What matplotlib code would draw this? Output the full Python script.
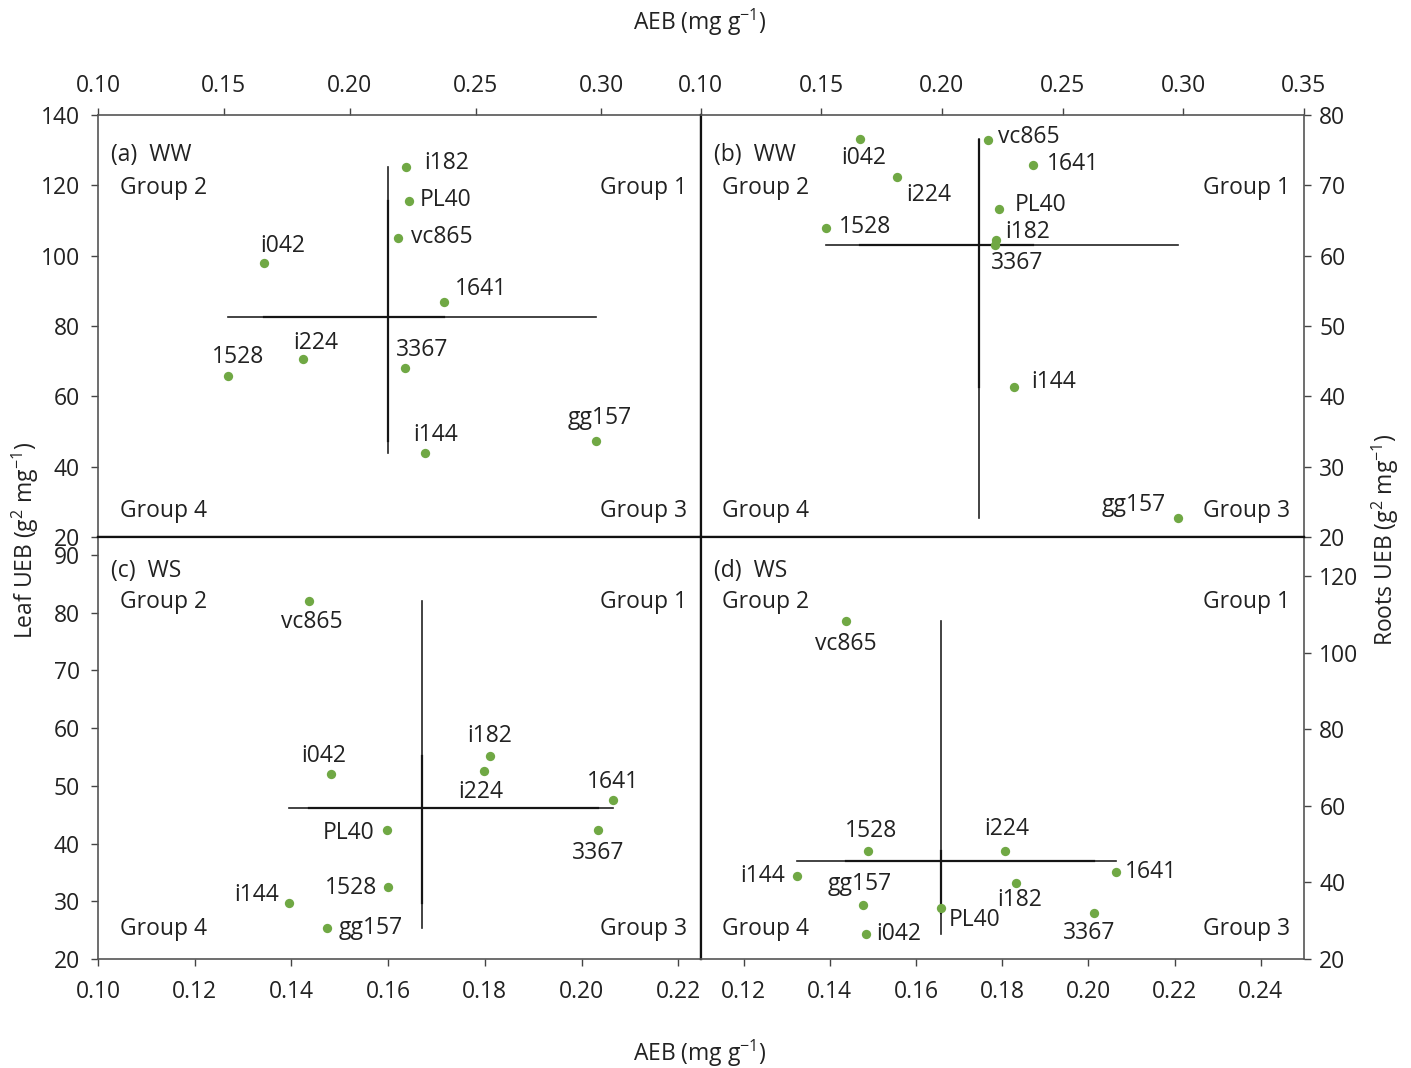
import numpy as np
import matplotlib
matplotlib.use('Agg')
import matplotlib.pyplot as plt

plt.rcParams['font.family'] = ['Open Sans', 'DejaVu Sans']
plt.rcParams['mathtext.fontset'] = 'custom'
plt.rcParams['mathtext.rm'] = 'Open Sans'
plt.rcParams['mathtext.default'] = 'regular'
plt.rcParams['font.size'] = 16.5
plt.rcParams['text.color'] = '#222222'

# genotypes and values
genotypes = ['1528', '1641', '3367', 'gg157', 'i042', 'i144', 'i182', 'i224', 'PL40', 'vc865']
aeb_ww = [0.1518, 0.2376, 0.2221, 0.2979, 0.1660, 0.2300, 0.2223, 0.1816, 0.2235, 0.2192]
leaf_ww = [65.8, 86.8, 68.0, 47.4, 97.9, 43.9, 125.2, 70.7, 115.5, 105.0]
root_ww = [63.9, 72.9, 61.5, 22.7, 76.6, 41.3, 62.2, 71.2, 66.6, 76.4]
aeb_ws_leaf = [0.1599, 0.2066, 0.2035, 0.1473, 0.1481, 0.1396, 0.1810, 0.1799, 0.1597, 0.1437]
leaf_ws = [32.5, 47.6, 42.4, 25.4, 52.1, 29.7, 55.2, 52.6, 42.4, 82.0]
aeb_ws_root = [0.1488, 0.2065, 0.2013, 0.1477, 0.1484, 0.1323, 0.1832, 0.1807, 0.1658, 0.1437]
root_ws = [48.3, 42.6, 32.1, 34.2, 26.6, 41.8, 39.9, 48.3, 33.2, 108.3]

# label offsets (pixels) for each panel
offs_a = {'i182': (41, 4), 'PL40': (37, 1), 'vc865': (44, 1), 'i042': (19, 17),
          '1641': (37, 13), 'i224': (12, 16), '1528': (10, 19), '3367': (17, 18),
          'i144': (10, 18), 'gg157': (4, 23)}
offs_b = {'vc865': (41, 3), 'i042': (4, -19), '1641': (40, 1), 'i224': (31, -18),
          'PL40': (42, 4), '1528': (40, 1), 'i182': (32, 8), '3367': (22, -18),
          'i144': (39, 5), 'gg157': (-45, 13)}
offs_c = {'vc865': (3, -21), 'i042': (-7, 18), 'i182': (0, 20), 'i224': (-4, -21),
          '1641': (0, 18), 'PL40': (-38, -3), '3367': (0, -23), '1528': (-37, -1),
          'i144': (-33, 8), 'gg157': (44, 0)}
offs_d = {'vc865': (0, -23), 'i224': (1, 22), '1528': (3, 20), '1641': (35, 0),
          'i144': (-34, 0), 'i182': (4, -17), 'gg157': (-3, 21), 'PL40': (34, -12),
          '3367': (-5, -20), 'i042': (33, 0)}

green = '#70a844'
W, H = 1411, 1068
fig = plt.figure(figsize=(W / 100, H / 100), dpi=100)

L, M, R = 98 / W, 700.5 / W, 1304 / W
T, MID, B = 1 - 115 / H, 1 - 537 / H, 1 - 959 / H

ax_a = fig.add_axes([L, MID, M - L, T - MID])
ax_b = fig.add_axes([M, MID, R - M, T - MID])
ax_c = fig.add_axes([L, B, M - L, MID - B])
ax_d = fig.add_axes([M, B, R - M, MID - B])


def draw(ax, x, y, offs, tag):
    x = np.array(x)
    y = np.array(y)
    xs = np.sort(x)
    ys = np.sort(y)
    mx, my = x.mean(), y.mean()
    # cross at the means
    ax.plot([xs[0], xs[-1]], [my, my], color='#222222', lw=1.2, zorder=2)
    ax.plot([xs[1], xs[-2]], [my, my], color='#151515', lw=1.6, zorder=2)
    ax.plot([mx, mx], [ys[0], ys[-1]], color='#222222', lw=1.2, zorder=2)
    ax.plot([mx, mx], [ys[1], ys[-2]], color='#151515', lw=1.6, zorder=2)
    ax.scatter(x, y, s=45, color=green, zorder=3, linewidths=0)
    for g, xi, yi in zip(genotypes, x, y):
        ax.annotate(g, (xi, yi), xytext=offs[g], textcoords='offset pixels',
                    ha='center', va='center')
    top = tag[1] == 'a' or tag[1] == 'b'
    yl = 0.905 if top else 0.919
    y2 = 0.827 if top else 0.846
    y4 = 0.062 if top else 0.071
    ax.text(0.022, yl, tag, transform=ax.transAxes, ha='left', va='center')
    ax.text(0.036, y2, 'Group 2', transform=ax.transAxes, ha='left', va='center')
    ax.text(0.977, y2, 'Group 1', transform=ax.transAxes, ha='right', va='center')
    ax.text(0.036, y4, 'Group 4', transform=ax.transAxes, ha='left', va='center')
    ax.text(0.977, y4, 'Group 3', transform=ax.transAxes, ha='right', va='center')


draw(ax_a, aeb_ww, leaf_ww, offs_a, '(a)  WW')
draw(ax_b, aeb_ww, root_ww, offs_b, '(b)  WW')
draw(ax_c, aeb_ws_leaf, leaf_ws, offs_c, '(c)  WS')
draw(ax_d, aeb_ws_root, root_ws, offs_d, '(d)  WS')

ax_a.set_xlim(0.10, 0.3394)
ax_a.set_ylim(20, 140)
ax_a.set_xticks([0.10, 0.15, 0.20, 0.25, 0.30])
ax_a.set_yticks(range(20, 141, 20))

ax_b.set_xlim(0.10, 0.35)
ax_b.set_ylim(20, 80)
ax_b.set_xticks([0.10, 0.15, 0.20, 0.25, 0.30, 0.35])
ax_b.set_yticks(range(20, 81, 10))

ax_c.set_xlim(0.10, 0.2246)
ax_c.set_ylim(20, 93.1)
ax_c.set_xticks([0.10, 0.12, 0.14, 0.16, 0.18, 0.20, 0.22])
ax_c.set_yticks(range(20, 91, 10))

ax_d.set_xlim(0.11, 0.25)
ax_d.set_ylim(20, 130.2)
ax_d.set_xticks([0.12, 0.14, 0.16, 0.18, 0.20, 0.22, 0.24])
ax_d.set_yticks(range(20, 121, 20))

for ax in [ax_a, ax_b, ax_c, ax_d]:
    ax.tick_params(direction='out', length=5, width=1, color='#444444',
                   labelsize=16.5, labelcolor='#222222')
    ax.tick_params(axis='y', pad=8)
    for s in ax.spines.values():
        s.set_color('#555555')
        s.set_linewidth(1.2)

ax_a.xaxis.tick_top()
ax_b.xaxis.tick_top()
ax_b.yaxis.tick_right()
ax_d.yaxis.tick_right()
ax_a.tick_params(axis='x', pad=7)
ax_b.tick_params(axis='x', pad=7)
ax_b.tick_params(axis='y', pad=6)
ax_d.tick_params(axis='y', pad=6)
ax_c.tick_params(axis='x', pad=10)
ax_d.tick_params(axis='x', pad=10)
for ax in [ax_a, ax_b, ax_c, ax_d]:
    ax.xaxis.set_major_formatter(plt.FormatStrFormatter('%.2f'))

# inner dividers
for ax, sides in [(ax_a, ['right', 'bottom']), (ax_b, ['left', 'bottom']),
                  (ax_c, ['right', 'top']), (ax_d, ['left', 'top'])]:
    for s in sides:
        ax.spines[s].set_color('#111111')
        ax.spines[s].set_linewidth(1.6)

fig.text(700 / W, 1 - 22 / H, 'AEB (mg g$^{-1}$)', ha='center', va='center')
fig.text(700 / W, 1 - 1053 / H, 'AEB (mg g$^{-1}$)', ha='center', va='center')
fig.text(25 / W, 1 - 540 / H, 'Leaf UEB (g$^2$ mg$^{-1}$)', ha='center', va='center',
         rotation=90)
fig.text(1385 / W, 1 - 540 / H, 'Roots UEB (g$^2$ mg$^{-1}$)', ha='center', va='center',
         rotation=90)

fig.savefig('out.png', dpi=100)
